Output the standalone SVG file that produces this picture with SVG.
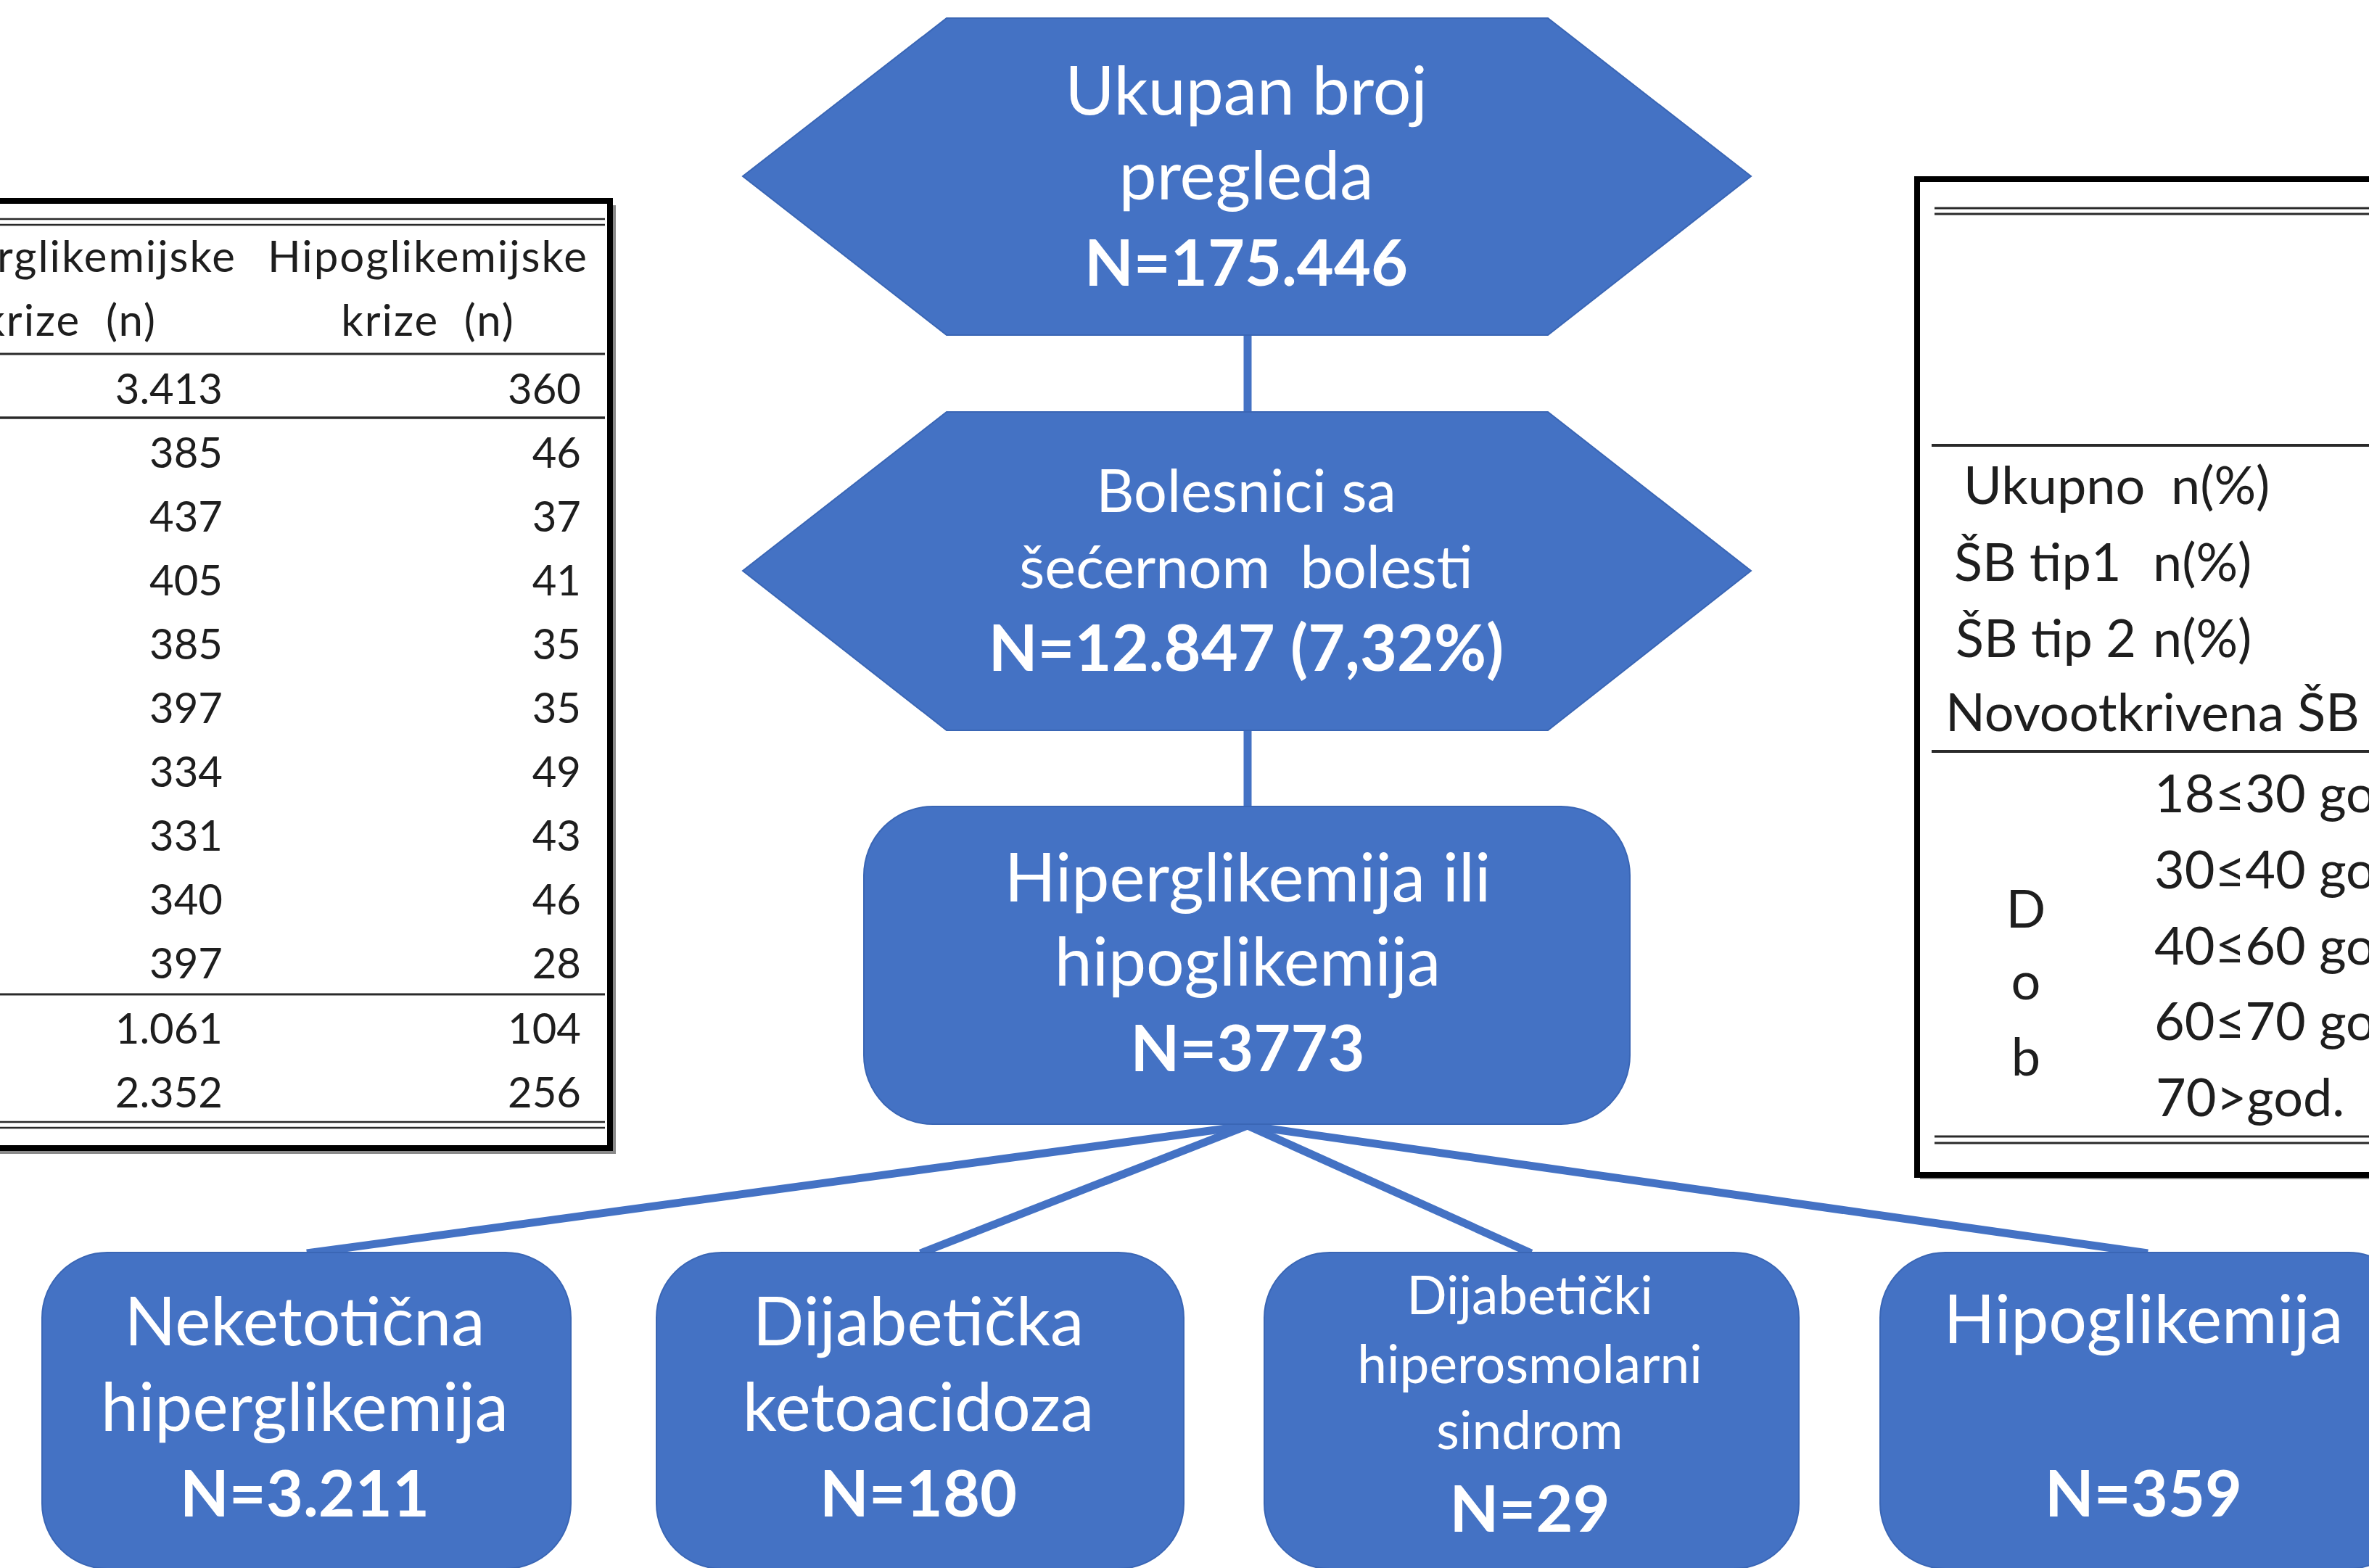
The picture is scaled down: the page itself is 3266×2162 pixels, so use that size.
<svg xmlns="http://www.w3.org/2000/svg" width="3266" height="2162" viewBox="0 0 3266 2162">
<style>
.node{fill:#4472C4;stroke:#3A66B5;stroke-width:2}
.nt{font-family:Lato,"Liberation Sans",sans-serif;fill:#ffffff;text-anchor:middle}
.big{font-size:93px}
.bb{font-size:88px;font-weight:bold}
.mid{font-size:81px}
.sm{font-size:73px}
.conn{stroke:#4472C4;stroke-width:11;fill:none;stroke-linecap:butt}
.tt{font-family:Lato,"Liberation Sans",sans-serif;fill:#1e1e1e;font-size:58px}
.th{font-family:Lato,"Liberation Sans",sans-serif;fill:#1e1e1e;font-size:60px;letter-spacing:2px;white-space:pre}
.tr{font-family:Lato,"Liberation Sans",sans-serif;fill:#1e1e1e;font-size:72px}
.r{text-anchor:end}
.m{text-anchor:middle}
.frame{fill:#ffffff;stroke:#000000;stroke-width:8}
.shadow{fill:#8a8a8a}
.rule{stroke:#2a2a2a;fill:none}
</style>
<rect x="0" y="0" width="3266" height="2162" fill="#ffffff"/>

<g id="table-left">
<rect class="shadow" x="-16" y="283" width="865" height="1308"/>
<rect class="frame" x="-20" y="277" width="861" height="1306"/>
<line class="rule" x1="0" y1="302" x2="834" y2="302" stroke-width="2.5"/>
<line class="rule" x1="0" y1="310" x2="834" y2="310" stroke-width="2.5"/>
<line class="rule" x1="0" y1="488" x2="834" y2="488" stroke-width="3" stroke="#555"/>
<line class="rule" x1="0" y1="576" x2="834" y2="576" stroke-width="3.5"/>
<line class="rule" x1="0" y1="1371" x2="834" y2="1371" stroke-width="3"/>
<line class="rule" x1="0" y1="1547" x2="834" y2="1547" stroke-width="2.5"/>
<line class="rule" x1="0" y1="1555" x2="834" y2="1555" stroke-width="2.5"/>
<text class="th r" x="326" y="375">rglikemijske</text>
<text class="th m" x="590" y="375">Hipoglikemijske</text>
<text class="th r" x="216" y="463">krize  (n)</text>
<text class="th m" x="590" y="463">krize  (n)</text>
<g class="tt r">
<text x="307" y="557">3.413</text><text x="801" y="557">360</text>
<text x="307" y="645">385</text><text x="801" y="645">46</text>
<text x="307" y="733">437</text><text x="801" y="733">37</text>
<text x="307" y="821">405</text><text x="801" y="821">41</text>
<text x="307" y="909">385</text><text x="801" y="909">35</text>
<text x="307" y="997">397</text><text x="801" y="997">35</text>
<text x="307" y="1085">334</text><text x="801" y="1085">49</text>
<text x="307" y="1173">331</text><text x="801" y="1173">43</text>
<text x="307" y="1261">340</text><text x="801" y="1261">46</text>
<text x="307" y="1349">397</text><text x="801" y="1349">28</text>
<text x="307" y="1439">1.061</text><text x="801" y="1439">104</text>
<text x="307" y="1527">2.352</text><text x="801" y="1527">256</text>
</g>
</g>

<g id="table-right">
<rect class="shadow" x="2647" y="253" width="700" height="1373"/>
<rect class="frame" x="2643" y="247" width="700" height="1373"/>
<line class="rule" x1="2667" y1="287" x2="3266" y2="287" stroke-width="3"/>
<line class="rule" x1="2667" y1="295" x2="3266" y2="295" stroke-width="3"/>
<line class="rule" x1="2663" y1="614" x2="3266" y2="614" stroke-width="4"/>
<line class="rule" x1="2663" y1="1036" x2="3266" y2="1036" stroke-width="4"/>
<line class="rule" x1="2667" y1="1567" x2="3266" y2="1567" stroke-width="3"/>
<line class="rule" x1="2667" y1="1576" x2="3266" y2="1576" stroke-width="3"/>
<text class="tr" y="695"><tspan x="2707">Ukupno</tspan><tspan x="2993">n(%)</tspan></text>
<text class="tr" y="801"><tspan x="2694">ŠB tip1</tspan><tspan x="2968">n(%)</tspan></text>
<text class="tr" y="906"><tspan x="2696">ŠB tip 2</tspan><tspan x="2968">n(%)</tspan></text>
<text class="tr" x="2682" y="1008">Novootkrivena ŠB</text>
<text class="tr m" x="2793" y="1279">D</text>
<text class="tr m" x="2793" y="1378">o</text>
<text class="tr m" x="2793" y="1483">b</text>
<text class="tr" x="2970" y="1120">18≤30 god</text>
<text class="tr" x="2970" y="1225">30≤40 god</text>
<text class="tr" x="2970" y="1330">40≤60 god</text>
<text class="tr" x="2970" y="1434">60≤70 god</text>
<text class="tr" x="2972" y="1539">70&gt;god.</text>
</g>

<g id="connectors">
<line class="conn" x1="1720" y1="460" x2="1720" y2="570"/>
<line class="conn" x1="1720" y1="1005" x2="1720" y2="1113"/>
<line class="conn" x1="1720" y1="1552" x2="423" y2="1728"/>
<line class="conn" x1="1720" y1="1552" x2="1269" y2="1728"/>
<line class="conn" x1="1720" y1="1552" x2="2111" y2="1728"/>
<line class="conn" x1="1720" y1="1552" x2="2961" y2="1728"/>
</g>

<g id="node-ukupan">
<polygon class="node" points="1024,243 1305,25 2134,25 2414,243 2134,462 1305,462"/>
<text class="nt big" x="1718" y="158">Ukupan broj</text>
<text class="nt big" x="1718" y="275">pregleda</text>
<text class="nt bb" x="1718" y="394">N=175.446</text>
</g>

<g id="node-bolesnici">
<polygon class="node" points="1024,787 1305,568 2134,568 2414,787 2134,1007 1305,1007"/>
<text class="nt mid" x="1718" y="706">Bolesnici sa</text>
<text class="nt mid" x="1718" y="811" style="white-space:pre">šećernom  bolesti</text>
<text class="nt bb" x="1718" y="925">N=12.847 (7,32%)</text>
</g>

<g id="node-hiper-hipo">
<rect class="node" x="1191" y="1112" width="1056" height="438" rx="95" ry="95"/>
<text class="nt big" x="1720" y="1243">Hiperglikemija ili</text>
<text class="nt big" x="1720" y="1359">hipoglikemija</text>
<text class="nt bb" x="1720" y="1477">N=3773</text>
</g>

<g id="node-neketoticna">
<rect class="node" x="58" y="1727" width="729" height="436" rx="90" ry="90"/>
<text class="nt big" x="420" y="1855">Neketotična</text>
<text class="nt big" x="420" y="1973">hiperglikemija</text>
<text class="nt bb" x="420" y="2091">N=3.211</text>
</g>

<g id="node-ketoacidoza">
<rect class="node" x="905" y="1727" width="727" height="436" rx="90" ry="90"/>
<text class="nt big" x="1266" y="1855">Dijabetička</text>
<text class="nt big" x="1266" y="1973">ketoacidoza</text>
<text class="nt bb" x="1266" y="2091">N=180</text>
</g>

<g id="node-hiperosmolarni">
<rect class="node" x="1743" y="1727" width="737" height="436" rx="90" ry="90"/>
<text class="nt sm" x="2109" y="1812">Dijabetički</text>
<text class="nt sm" x="2109" y="1907">hiperosmolarni</text>
<text class="nt sm" x="2109" y="1998">sindrom</text>
<text class="nt bb" x="2109" y="2112">N=29</text>
</g>

<g id="node-hipoglikemija">
<rect class="node" x="2592" y="1727" width="736" height="436" rx="90" ry="90"/>
<text class="nt big" x="2955" y="1852">Hipoglikemija</text>
<text class="nt bb" x="2955" y="2091">N=359</text>
</g>
</svg>
